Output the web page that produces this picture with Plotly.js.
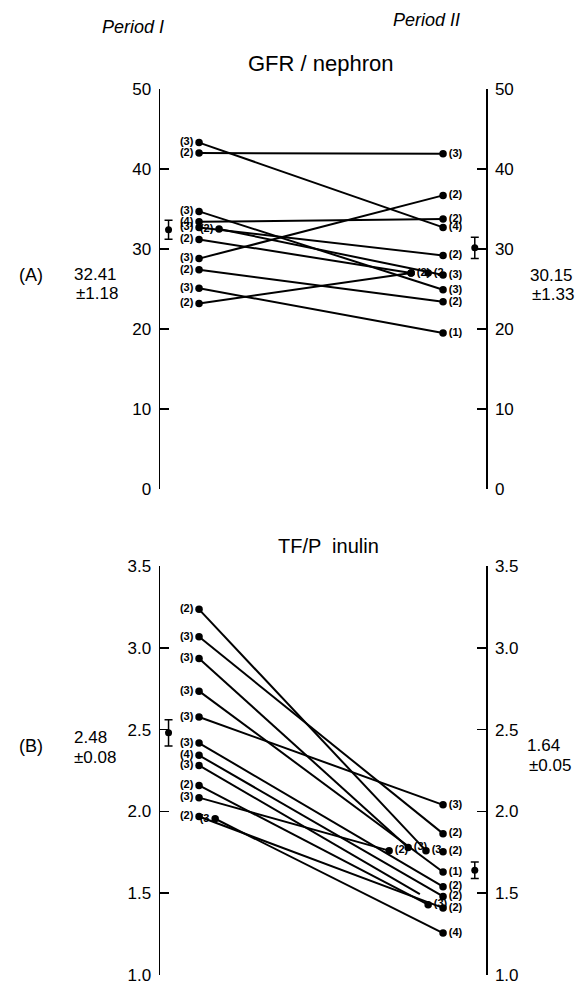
<!DOCTYPE html>
<html>
<head>
<meta charset="utf-8">
<script src="https://cdn.plot.ly/plotly-3.0.1.min.js"></script>
<style>html,body{margin:0;padding:0;background:#fff}#chart{width:584px;height:983px}</style>
</head>
<body>
<div id="chart"></div>
<script>
// ---------- DATA ----------
// Panel A: GFR / nephron, each nephron Period I -> Period II (numbers of samples in parentheses)
const gfrPeriodI      = [43.3, 42.0, 34.7, 33.4, 32.7, 32.5, 31.2, 28.8, 27.4, 25.1, 23.2];
const gfrPeriodIPos   = [1, 1, 1, 1, 1, 1.082, 1, 1, 1, 1, 1];
const gfrPeriodIN     = ['(3)', '(2)', '(3)', '(4)', '(3)', '(2)', '(2)', '(3)', '(2)', '(3)', '(2)'];
const gfrPeriodII     = [32.7, 41.9, 24.9, 33.75, 29.2, 26.75, 27.0, 36.7, 23.4, 19.5, 27.0];
const gfrPeriodIIPos  = [2, 2, 2, 2, 2, 2, 1.869, 2, 2, 2, 1.869];
const gfrPeriodIIN    = ['(4)', '(3)', '(3)', '(2)', '(2)', '(3)', '(2)', '(2)', '(2)', '(1)', ''];
const gfrPeriodIIEndMark = [1, 1, 1, 1, 1, 1, 1, 1, 1, 1, 1];
// unpaired Period II point
const gfrExtraII    = [27.0];
const gfrExtraIIPos = [1.939];
const gfrExtraIIN   = ['(2'];
const gfrMean = [32.41, 30.15];
const gfrSE   = [1.18, 1.33];

// Panel B: TF/P inulin
const tfpPeriodI     = [3.235, 3.067, 2.935, 2.735, 2.577, 2.418, 2.343, 2.281, 2.159, 2.084, 1.969, 1.955];
const tfpPeriodIPos  = [1, 1, 1, 1, 1, 1, 1, 1, 1, 1, 1, 1.066];
const tfpPeriodIN    = ['(2)', '(3)', '(3)', '(3)', '(3)', '(3)', '(4)', '(3)', '(2)', '(3)', '(2)', '(3'];
const tfpPeriodII    = [1.76, 1.864, 1.78, 1.63, 2.04, 1.54, 1.48, 1.495, 1.43, 1.76, 1.41, 1.256];
const tfpPeriodIIPos = [1.930, 2, 1.857, 2, 2, 2, 2, 1.905, 1.939, 1.779, 2, 2];
const tfpPeriodIIN   = ['(3', '(2)', '(3)', '(1)', '(3)', '(2)', '(2)', '', '(3)', '(2)', '(2)', '(4)'];
const tfpPeriodIIEndMark = [1, 1, 1, 1, 1, 1, 1, 0, 1, 1, 1, 1];
const tfpExtraII    = [1.754];
const tfpExtraIIPos = [2];
const tfpExtraIIN   = ['(2)'];
const tfpMean = [2.48, 1.64];
const tfpSE   = [0.08, 0.05];

const gfrTicks = [0, 10, 20, 30, 40, 50];
const tfpTicks = [1.0, 1.5, 2.0, 2.5, 3.0, 3.5];
const meanPos  = [0.875, 2.13];

// ---------- LAYOUT HELPERS ----------
const W = 584, H = 983, ML = 160, MR = 98, MT = 89, MB = 7;
const px = x => (x - ML) / (W - ML - MR);
const py = y => (H - MB - y) / (H - MT - MB);
const FONT = 'Liberation Sans, Arial, sans-serif';
const XR = [0.84, 2.176];
const LBL = {family: FONT, size: 11, color: '#000', weight: 'bold'};
const DOT = 7.5;

const traces = [];
function addPanel(d, xa, ya) {
  for (let i = 0; i < d.p1.length; i++) {
    traces.push({
      type: 'scatter', mode: 'lines+markers+text', xaxis: xa, yaxis: ya,
      x: [d.p1pos[i], d.p2pos[i]], y: [d.p1[i], d.p2[i]],
      text: [d.p1n[i], d.p2n[i]], textposition: ['middle left', 'middle right'], textfont: LBL,
      line: {color: '#000', width: 2},
      marker: {color: '#000', opacity: 1, size: [DOT, d.mark[i] ? DOT : 0], line: {width: 0}},
      hoverinfo: 'skip', showlegend: false, cliponaxis: false
    });
  }
  traces.push({
    type: 'scatter', mode: 'markers+text', xaxis: xa, yaxis: ya,
    x: d.exPos, y: d.ex, text: d.exN, textposition: 'middle right', textfont: LBL,
    marker: {color: '#000', opacity: 1, size: DOT, line: {width: 0}},
    hoverinfo: 'skip', showlegend: false, cliponaxis: false
  });
  traces.push({
    type: 'scatter', mode: 'markers', xaxis: xa, yaxis: ya,
    x: meanPos, y: d.mean,
    marker: {color: '#000', size: 7, line: {width: 0}},
    error_y: {type: 'data', array: d.se, visible: true, color: '#000', thickness: 1.5, width: 4},
    hoverinfo: 'skip', showlegend: false
  });
}
addPanel({p1: gfrPeriodI, p1pos: gfrPeriodIPos, p1n: gfrPeriodIN, p2: gfrPeriodII, p2pos: gfrPeriodIIPos,
          p2n: gfrPeriodIIN, mark: gfrPeriodIIEndMark, ex: gfrExtraII, exPos: gfrExtraIIPos, exN: gfrExtraIIN,
          mean: gfrMean, se: gfrSE}, 'x', 'y');
addPanel({p1: tfpPeriodI, p1pos: tfpPeriodIPos, p1n: tfpPeriodIN, p2: tfpPeriodII, p2pos: tfpPeriodIIPos,
          p2n: tfpPeriodIIN, mark: tfpPeriodIIEndMark, ex: tfpExtraII, exPos: tfpExtraIIPos, exN: tfpExtraIIN,
          mean: tfpMean, se: tfpSE}, 'x2', 'y2');

const axBase = {
  showgrid: false, zeroline: false, showline: true, linecolor: '#000', linewidth: 1.5,
  ticks: 'inside', ticklen: 9, tickwidth: 1.5, tickcolor: '#000',
  tickfont: {family: FONT, size: 17, color: '#000'}, ticklabelstandoff: 4,
  ticklabeloverflow: 'allow', fixedrange: true
};
const topDom = [py(489), py(89)];
const botDom = [py(975), py(566)];

const layout = {
  width: W, height: H,
  margin: {l: ML, r: MR, t: MT, b: MB, pad: 0},
  paper_bgcolor: '#fff', plot_bgcolor: 'rgba(0,0,0,0)',
  showlegend: false,
  xaxis:  {domain: [0, 1], range: XR, visible: false, anchor: 'y', fixedrange: true},
  xaxis2: {domain: [0, 1], range: XR, visible: false, anchor: 'y2', fixedrange: true},
  yaxis:  Object.assign({}, axBase, {domain: topDom, range: [0, 50], tickvals: gfrTicks, anchor: 'x', side: 'left'}),
  yaxis3: Object.assign({}, axBase, {domain: topDom, range: [0, 50], tickvals: gfrTicks, overlaying: 'y', side: 'right', anchor: 'x'}),
  yaxis2: Object.assign({}, axBase, {domain: botDom, range: [1, 3.5], tickvals: tfpTicks, tickformat: '.1f', anchor: 'x2', side: 'left'}),
  yaxis4: Object.assign({}, axBase, {domain: botDom, range: [1, 3.5], tickvals: tfpTicks, tickformat: '.1f', overlaying: 'y2', side: 'right', anchor: 'x2'}),
  annotations: []
};
traces.push({type: 'scatter', x: [], y: [], xaxis: 'x', yaxis: 'y3', showlegend: false});
traces.push({type: 'scatter', x: [], y: [], xaxis: 'x2', yaxis: 'y4', showlegend: false});

function txt(t, x, y, size, opts) {
  layout.annotations.push(Object.assign({
    text: t, xref: 'paper', yref: 'paper', x: px(x), y: py(y),
    xanchor: 'center', yanchor: 'middle', showarrow: false,
    font: {family: FONT, size: size, color: '#000'}
  }, opts || {}));
}
txt('<i>Period I</i>', 133, 27, 18);
txt('<i>Period II</i>', 426, 20, 18);
txt('GFR / nephron', 321, 63, 22);
txt('TF/P  inulin', 328, 546, 20);
txt('(A)', 31, 275, 18);
txt('32.41', 95, 274, 17);
txt('±1.18', 97, 293, 17);
txt('30.15', 551, 275, 17);
txt('±1.33', 553, 294, 17);
txt('(B)', 31, 746, 18);
txt('2.48', 90, 738, 17);
txt('±0.08', 95, 757, 17);
txt('1.64', 543, 745, 17);
txt('±0.05', 550, 765, 17);

Plotly.newPlot('chart', traces, layout, {staticPlot: true, displayModeBar: false});
</script>
</body>
</html>
